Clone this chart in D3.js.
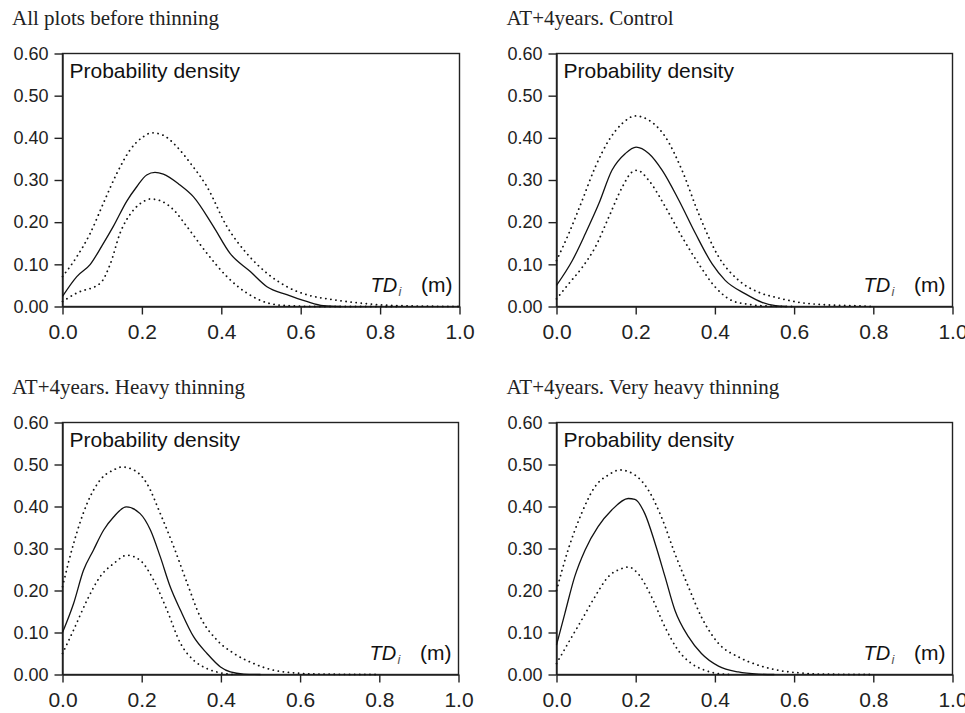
<!DOCTYPE html>
<html>
<head>
<meta charset="utf-8">
<script src="https://cdn.jsdelivr.net/npm/d3@7"></script>
<style>
  body { margin: 0; background: #fff; }
</style>
</head>
<body>
<script>
// panel titles
var titles = ['All plots before thinning', 'AT+4years. Control',
              'AT+4years. Heavy thinning', 'AT+4years. Very heavy thinning'];

// tick values
var xTicks = [0, 0.2, 0.4, 0.6, 0.8, 1.0];
var yTicks = [0, 0.1, 0.2, 0.3, 0.4, 0.5, 0.6];

// [TDi, density]: mean curve, upper and lower bounds
var beforeMean = [[0,0.024],[0.036,0.071],[0.07,0.10],[0.1,0.145],[0.128,0.19],[0.162,0.25],[0.187,0.284],[0.212,0.312],[0.233,0.318],[0.254,0.314],[0.296,0.288],[0.33,0.26],[0.38,0.19],[0.422,0.126],[0.473,0.083],[0.515,0.047],[0.565,0.028],[0.615,0.012],[0.657,0.002],[0.7,0]];
var beforeUpper = [[0,0.071],[0.036,0.118],[0.07,0.174],[0.103,0.245],[0.137,0.316],[0.17,0.371],[0.204,0.403],[0.225,0.412],[0.254,0.406],[0.288,0.379],[0.322,0.34],[0.364,0.284],[0.414,0.19],[0.464,0.126],[0.515,0.079],[0.565,0.047],[0.615,0.028],[0.683,0.016],[0.75,0.008],[0.8,0.004],[0.85,0.002],[1.0,0]];
var beforeLower = [[0,0.012],[0.036,0.032],[0.095,0.055],[0.12,0.10],[0.145,0.174],[0.179,0.229],[0.204,0.249],[0.221,0.255],[0.246,0.251],[0.28,0.229],[0.313,0.19],[0.364,0.126],[0.414,0.071],[0.464,0.032],[0.515,0.009],[0.565,0.002],[0.65,0],[0.85,0]];

var controlMean = [[0,0.05],[0.04,0.109],[0.073,0.173],[0.107,0.244],[0.14,0.323],[0.174,0.363],[0.201,0.378],[0.233,0.363],[0.267,0.323],[0.309,0.252],[0.351,0.173],[0.393,0.101],[0.426,0.062],[0.477,0.03],[0.519,0.01],[0.553,0.002],[0.58,0]];
var controlUpper = [[0,0.109],[0.031,0.173],[0.065,0.252],[0.098,0.331],[0.132,0.394],[0.166,0.434],[0.199,0.452],[0.233,0.442],[0.275,0.402],[0.317,0.323],[0.359,0.22],[0.41,0.117],[0.46,0.062],[0.51,0.034],[0.561,0.02],[0.611,0.01],[0.662,0.005],[0.746,0.002],[0.8,0]];
var controlLower = [[0,0.018],[0.031,0.054],[0.065,0.093],[0.098,0.141],[0.132,0.212],[0.166,0.283],[0.191,0.319],[0.204,0.323],[0.233,0.299],[0.275,0.236],[0.317,0.165],[0.359,0.101],[0.401,0.046],[0.443,0.014],[0.485,0.005],[0.536,0.001],[0.6,0]];

var heavyMean = [[0,0.10],[0.028,0.169],[0.053,0.248],[0.078,0.296],[0.104,0.344],[0.129,0.375],[0.161,0.399],[0.196,0.383],[0.222,0.344],[0.247,0.28],[0.272,0.209],[0.298,0.153],[0.331,0.09],[0.365,0.05],[0.399,0.018],[0.424,0.006],[0.458,0.001],[0.5,0]];
var heavyUpper = [[0,0.209],[0.028,0.312],[0.062,0.407],[0.095,0.463],[0.129,0.487],[0.15,0.494],[0.18,0.487],[0.213,0.455],[0.247,0.383],[0.281,0.304],[0.315,0.217],[0.348,0.137],[0.39,0.082],[0.433,0.05],[0.483,0.026],[0.534,0.01],[0.584,0.004],[0.643,0.001],[0.8,0]];
var heavyLower = [[0,0.05],[0.028,0.106],[0.062,0.177],[0.095,0.233],[0.129,0.264],[0.163,0.284],[0.196,0.272],[0.23,0.225],[0.264,0.153],[0.298,0.074],[0.331,0.034],[0.365,0.014],[0.399,0.004],[0.433,0]];

var veryMean = [[0,0.07],[0.021,0.145],[0.046,0.233],[0.072,0.296],[0.105,0.352],[0.139,0.391],[0.181,0.419],[0.198,0.417],[0.223,0.383],[0.249,0.312],[0.274,0.233],[0.299,0.153],[0.333,0.09],[0.366,0.05],[0.409,0.02],[0.459,0.006],[0.51,0.001],[0.55,0]];
var veryUpper = [[0,0.2],[0.029,0.296],[0.063,0.383],[0.097,0.447],[0.131,0.475],[0.16,0.487],[0.198,0.475],[0.232,0.439],[0.265,0.375],[0.299,0.288],[0.333,0.209],[0.366,0.137],[0.409,0.074],[0.459,0.042],[0.51,0.022],[0.56,0.01],[0.611,0.004],[0.661,0.001],[0.8,0]];
var veryLower = [[0,0.026],[0.029,0.074],[0.063,0.129],[0.097,0.185],[0.131,0.233],[0.164,0.252],[0.181,0.256],[0.206,0.24],[0.24,0.185],[0.274,0.113],[0.307,0.058],[0.341,0.026],[0.375,0.01],[0.409,0.002],[0.442,0]];

var means = [beforeMean, controlMean, heavyMean, veryMean];
var uppers = [beforeUpper, controlUpper, heavyUpper, veryUpper];
var lowers = [beforeLower, controlLower, heavyLower, veryLower];

// layout of the four panels (plot box origin and size)
var layout = [
    {left: 62.5, top: 53.5, w: 397, h: 253, tx: 12, ty: 25},
    {left: 556.5, top: 53.5, w: 396, h: 253, tx: 506.5, ty: 25},
    {left: 62.5, top: 422.5, w: 396, h: 252, tx: 12, ty: 394},
    {left: 556.5, top: 422.5, w: 396, h: 252, tx: 506.5, ty: 394}
];

var svg = d3.select('body')
    .append('svg')
    .attr('width', 965)
    .attr('height', 713)
    .style('background-color', '#fff');

var sans = '"Liberation Sans", Arial, sans-serif';
var serif = '"Liberation Serif", "Times New Roman", serif';

layout.forEach(function (p, i) {
    //title
    svg.append('text')
        .attr('x', p.tx)
        .attr('y', p.ty)
        .attr('font-family', serif)
        .attr('font-size', '21px')
        .attr('fill', '#222')
        .text(titles[i]);

    var g = svg.append('g')
        .attr('transform', 'translate(' + p.left + ',' + p.top + ')');

    var xscale = d3.scaleLinear().domain([0, 1]).range([0, p.w]);
    var yscale = d3.scaleLinear().domain([0, 0.6]).range([p.h, 0]);

    //frame
    g.append('rect')
        .attr('x', 0)
        .attr('y', 0)
        .attr('width', p.w)
        .attr('height', p.h)
        .attr('fill', 'none')
        .attr('stroke', '#222')
        .attr('stroke-width', 1.4);

    var yaxis = d3.axisLeft(yscale)
        .tickValues(yTicks)
        .tickFormat(d3.format('.2f'))
        .tickSize(8)
        .tickSizeOuter(0)
        .tickPadding(6);
    var xaxis = d3.axisBottom(xscale)
        .tickValues(xTicks)
        .tickFormat(d3.format('.1f'))
        .tickSize(8)
        .tickSizeOuter(0)
        .tickPadding(10);

    var ya = g.append('g').call(yaxis);
    ya.selectAll('text')
        .attr('font-family', sans)
        .attr('font-size', '18px')
        .attr('fill', '#222');
    var xa = g.append('g')
        .attr('transform', 'translate(0,' + p.h + ')')
        .call(xaxis);
    xa.selectAll('text')
        .attr('font-family', sans)
        .attr('font-size', '21px')
        .attr('fill', '#222');
    g.selectAll('.domain, .tick line')
        .attr('stroke', '#222')
        .attr('stroke-width', 1.4);

    //labels inside the box
    g.append('text')
        .attr('x', 7)
        .attr('y', 24)
        .attr('font-family', sans)
        .attr('font-size', '21px')
        .attr('fill', '#111')
        .text('Probability density');

    g.append('text')
        .attr('x', p.w - 89)
        .attr('y', p.h - 15)
        .attr('font-family', sans)
        .attr('font-size', '20px')
        .attr('font-style', 'italic')
        .attr('fill', '#111')
        .text('TD');
    g.append('text')
        .attr('x', p.w - 61)
        .attr('y', p.h - 11)
        .attr('font-family', sans)
        .attr('font-size', '13px')
        .attr('font-style', 'italic')
        .attr('fill', '#555')
        .text('i');
    g.append('text')
        .attr('x', p.w - 7)
        .attr('y', p.h - 15)
        .attr('text-anchor', 'end')
        .attr('font-family', sans)
        .attr('font-size', '21px')
        .attr('fill', '#111')
        .text('(m)');

    var line = d3.line()
        .x(function (d) { return xscale(d[0]); })
        .y(function (d) { return yscale(d[1]); })
        .curve(d3.curveMonotoneX);

    [uppers[i], lowers[i]].forEach(function (c) {
        g.append('path')
            .attr('d', line(c))
            .attr('fill', 'none')
            .attr('stroke', '#111')
            .attr('stroke-width', 1.8)
            .attr('stroke-linecap', 'round')
            .attr('stroke-dasharray', '0.1 5');
    });

    g.append('path')
        .attr('d', line(means[i]))
        .attr('fill', 'none')
        .attr('stroke', '#111')
        .attr('stroke-width', 1.3);
});
</script>
</body>
</html>
